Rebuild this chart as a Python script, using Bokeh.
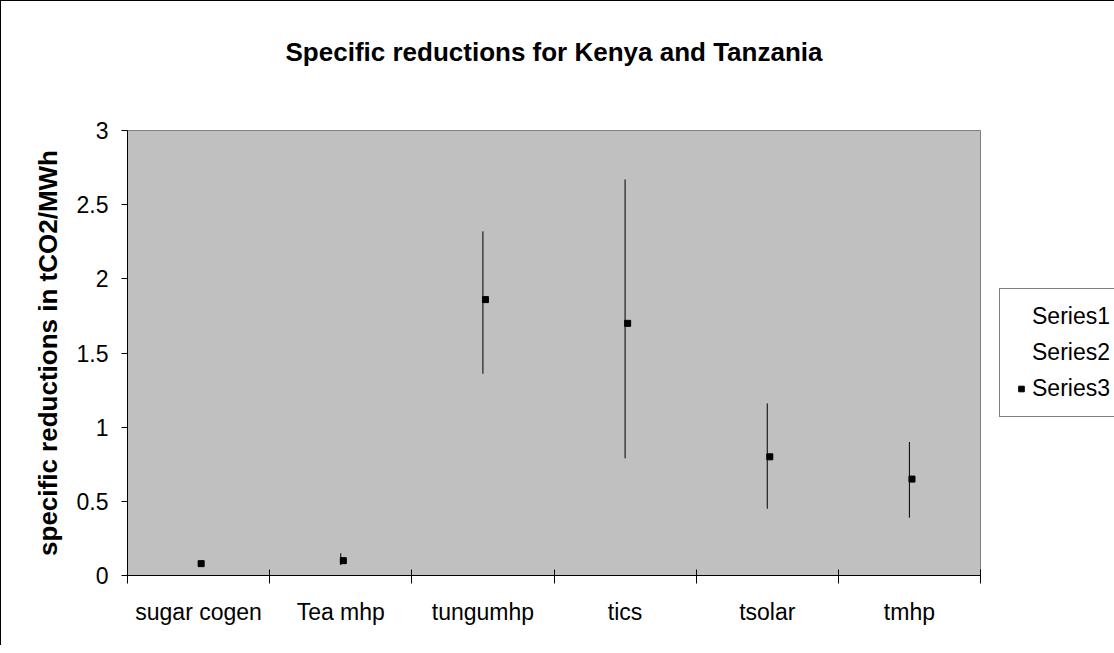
from bokeh.plotting import figure
from bokeh.models import (FactorRange, Range1d, LinearAxis, FixedTicker, NumeralTickFormatter,
                          Legend, LegendItem, Title, ColumnDataSource)
from bokeh.transform import dodge
from bokeh.embed import file_html
from bokeh.resources import INLINE

# ---- data ----
categories = ["sugar cogen", "Tea mhp", "tungumhp", "tics", "tsolar", "tmhp"]
series1_high = [0.085, 0.15, 2.32, 2.67, 1.16, 0.90]
series2_low = [0.075, 0.07, 1.36, 0.79, 0.45, 0.39]
series3_close = [0.08, 0.10, 1.86, 1.70, 0.80, 0.65]
y_ticks = [0, 0.5, 1, 1.5, 2, 2.5, 3]
title_text = "Specific reductions for Kenya and Tanzania"
y_label = "specific reductions in tCO2/MWh"
legend_names = ["Series1", "Series2", "Series3"]

FONT = "Liberation Sans"

src = ColumnDataSource(dict(cat=categories, high=series1_high, low=series2_low, close=series3_close))

p = figure(x_range=FactorRange(factors=categories, range_padding=0, factor_padding=0),
           y_range=Range1d(0, 3),
           x_axis_type=None, y_axis_type=None,
           frame_width=853, frame_height=445,
           min_border_left=126, min_border_right=134, min_border_top=129, min_border_bottom=70,
           output_backend="svg", toolbar_location=None)

p.background_fill_color = "#c0c0c0"
p.border_fill_color = "white"
p.outline_line_color = "#808080"
p.outline_line_width = 1
p.styles = {"border-left": "1px solid black", "border-top": "1px solid black"}

# y axis
yaxis = LinearAxis(ticker=FixedTicker(ticks=y_ticks, minor_ticks=[]),
                   formatter=NumeralTickFormatter(format="0.[0]"))
yaxis.axis_line_color = "black"
yaxis.major_tick_line_color = "black"
yaxis.major_tick_out = 6
yaxis.major_tick_in = 0
yaxis.minor_tick_line_color = None
yaxis.major_label_text_font = FONT
yaxis.major_label_text_font_size = "23px"
yaxis.major_label_text_color = "black"
yaxis.major_label_standoff = 13
yaxis.axis_label = y_label
yaxis.axis_label_text_font = FONT
yaxis.axis_label_text_font_size = "26px"
yaxis.axis_label_text_font_style = "bold"
yaxis.axis_label_text_color = "black"
yaxis.axis_label_standoff = 11
p.add_layout(yaxis, "left")

# x axis: labels at centres, tick marks at category boundaries
n = len(categories)
centres = [i + 0.5 for i in range(n)]
bounds = [float(i) for i in range(n + 1)]
xaxis = LinearAxis(ticker=FixedTicker(ticks=centres, minor_ticks=bounds))
xaxis.major_label_overrides = {c: lab for c, lab in zip(centres, categories)}
xaxis.axis_line_color = "black"
xaxis.major_tick_line_color = None
xaxis.major_tick_out = 0
xaxis.major_tick_in = 0
xaxis.minor_tick_line_color = "black"
xaxis.minor_tick_in = 6
xaxis.minor_tick_out = 8
xaxis.major_label_text_font = FONT
xaxis.major_label_text_font_size = "23px"
xaxis.major_label_text_color = "black"
xaxis.major_label_standoff = 15
p.add_layout(xaxis, "below")

# grid
p.ygrid.ticker = FixedTicker(ticks=y_ticks)
p.ygrid.grid_line_color = "#222222"
p.ygrid.grid_line_width = 1
p.xgrid.grid_line_color = None

# glyphs
r1 = p.scatter(x="cat", y="high", source=src, marker="dash", size=1, line_alpha=0, fill_alpha=0)
r2 = p.scatter(x="cat", y="low", source=src, marker="dash", size=1, line_alpha=0, fill_alpha=0)
p.segment(x0="cat", y0="low", x1="cat", y1="high", source=src, line_color="black", line_width=1)
r3 = p.scatter(x=dodge("cat", 0.018, range=p.x_range), y="close", source=src, marker="square",
               size=6, fill_color="black", line_color="black", line_width=1)

# title, with an empty spacer title between it and the plot area
p.title = Title(text=title_text, align="center", text_font=FONT,
                text_font_size="26px", text_font_style="bold", text_color="black", standoff=10)
p.add_layout(Title(text=" ", text_font=FONT, text_font_size="26px", text_font_style="bold",
                   standoff=27), "above")

# legend (right panel; its right edge runs past the canvas like the reference)
legend = Legend(items=[LegendItem(label=legend_names[0], renderers=[r1]),
                       LegendItem(label=legend_names[1], renderers=[r2]),
                       LegendItem(label=legend_names[2], renderers=[r3])],
                location=(19, 158))
legend.label_text_font = FONT
legend.label_text_font_size = "23px"
legend.label_text_color = "black"
legend.border_line_color = "black"
legend.border_line_width = 1
legend.background_fill_color = "white"
legend.background_fill_alpha = 1
legend.padding = 14
legend.spacing = 9
legend.margin = 0
legend.label_height = 25
legend.glyph_height = 25
legend.glyph_width = 14
legend.label_standoff = 4
legend.label_width = 85
p.add_layout(legend, "right")

open("out.html", "w").write(file_html(p, INLINE))
